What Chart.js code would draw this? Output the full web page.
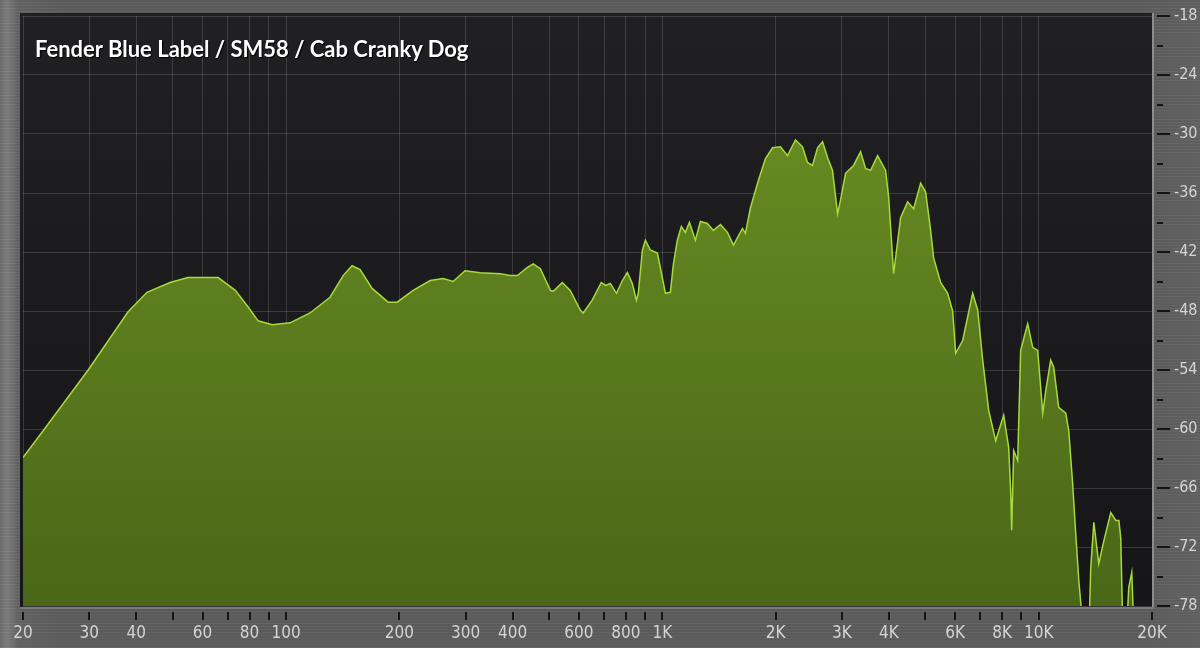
<!DOCTYPE html>
<html>
<head>
<meta charset="utf-8">
<script src="https://cdn.jsdelivr.net/npm/chart.js@4/dist/chart.umd.min.js"></script>
<style>
html,body{margin:0;padding:0;}
body{width:1200px;height:648px;overflow:hidden;background:#5d5d5d;position:relative;}
#bg{position:absolute;left:0;top:0;width:1200px;height:648px;
 background:
  repeating-linear-gradient(0deg, rgba(255,255,255,0.035) 0px, rgba(255,255,255,0.035) 1px, rgba(0,0,0,0.035) 1px, rgba(0,0,0,0.035) 3px),
  linear-gradient(90deg,#6c6c6c 0px,#7e7e7e 7px,#646464 18px,#5d5d5d 60px,#5d5d5d 1140px,#626262 1200px);}
#c{position:absolute;left:0;top:0;}
#title{position:absolute;left:35px;top:38px;font-family:Lato,'Open Sans',sans-serif;font-weight:700;font-size:22px;line-height:22px;color:#ffffff;text-shadow:1px 1px 1px #000;white-space:nowrap;}
</style>
</head>
<body>
<div id="bg"></div>
<canvas id="c" width="1200" height="648"></canvas>
<div id="title">Fender Blue Label / SM58 / Cab Cranky Dog</div>
<script>
// Frequencies (Hz)
const freqs = [
  20, 22.6, 29.8, 38.0, 42.7, 49.2, 54.9, 66.0, 73.3, 79.3,
  84.3, 91.9, 102.5, 115.8, 130.9, 141.8, 149.8, 157.3, 169.3, 186.7,
  197.3, 217.7, 241.5, 261.6, 278, 299, 328, 371, 394, 412,
  437, 454, 474, 504, 513, 542, 569, 605, 616, 651,
  688, 706, 727, 755, 783, 807, 832, 853, 863, 885,
  901, 929, 970, 1019, 1050, 1070, 1096, 1123, 1151, 1180,
  1224, 1262, 1317, 1366, 1427, 1489, 1545, 1632, 1662, 1714,
  1800, 1879, 1962, 2060, 2150, 2258, 2357, 2430, 2506, 2584,
  2664, 2747, 2832, 2921, 2975, 3067, 3221, 3363, 3467, 3575,
  3732, 3919, 3992, 4116, 4296, 4484, 4652, 4856, 5006, 5162,
  5257, 5488, 5728, 5906, 6016, 6280, 6676, 6884, 7098, 7363,
  7686, 7828, 8071, 8322, 8424, 8476, 8580, 8793, 8955, 9347,
  9638, 9938, 10250, 10440, 10760, 10960, 11300, 11800, 12020, 12310,
  12540, 12780, 13090, 13300, 13580, 13660, 13750, 14010, 14440, 14890,
  15540, 16030, 16330, 16520, 16720, 16900, 17150, 17250, 17350, 17670,
  17890, 18100, 20000
];
// Level (dB) at each frequency
const levels = [
  -62.9, -60.2, -54.0, -48.1, -46.1, -45.1, -44.6, -44.6, -45.9, -47.6,
  -49.0, -49.4, -49.2, -48.2, -46.6, -44.4, -43.4, -43.8, -45.7, -47.1,
  -47.1, -45.9, -44.9, -44.7, -45.0, -43.9, -44.1, -44.2, -44.4, -44.4,
  -43.6, -43.2, -43.7, -45.9, -46.0, -45.1, -45.9, -47.9, -48.2, -46.9,
  -45.1, -45.4, -45.2, -46.2, -44.9, -44.1, -45.2, -46.9, -46.2, -41.8,
  -40.8, -41.8, -42.1, -46.2, -46.1, -43.2, -40.8, -39.4, -40.0, -39.0,
  -40.8, -38.9, -39.1, -39.8, -39.2, -40.0, -41.3, -39.6, -40.1, -37.5,
  -34.7, -32.5, -31.4, -31.3, -32.2, -30.6, -31.3, -32.9, -33.2, -31.4,
  -30.8, -32.4, -33.7, -38.1, -36.7, -34.0, -33.2, -31.8, -33.5, -33.7,
  -32.2, -33.7, -36.4, -44.2, -38.5, -36.9, -37.6, -35.0, -35.9, -39.8,
  -42.6, -45.1, -46.2, -48.0, -52.3, -51.0, -46.2, -47.9, -53.0, -58.1,
  -61.2, -60.2, -58.6, -61.9, -66.3, -70.3, -62.2, -63.2, -52.0, -49.3,
  -51.7, -52.0, -58.4, -56.1, -53.0, -53.7, -57.8, -58.4, -60.2, -65.6,
  -70.6, -75.4, -80, -90, -90, -78, -74.1, -69.5, -73.7, -71.4,
  -68.5, -69.3, -69.3, -71.1, -80, -90, -90, -78, -76.1, -74.6,
  -80, -90, -90
];
// X axis ticks and labels
const xTickValues = [20,30,40,50,60,70,80,90,100,200,300,400,500,600,700,800,900,1000,2000,3000,4000,5000,6000,7000,8000,9000,10000,20000];
const xTickLabels = ['20','30','40','','60','','80','','100','200','300','400','','600','','800','','1K','2K','3K','4K','','6K','','8K','','10K','20K'];
// Y axis ticks and labels
const yTickValues = [-78,-75,-72,-69,-66,-63,-60,-57,-54,-51,-48,-45,-42,-39,-36,-33,-30,-27,-24,-21,-18];
const yTickLabels = ['-78','','-72','','-66','','-60','','-54','','-48','','-42','','-36','','-30','','-24','','-18'];
const yMajorLabels = new Set(yTickLabels.filter(s => s !== ''));

const fontFamily = "'Liberation Sans Narrow','DejaVu Sans Condensed','Roboto',sans-serif";

const panel = {
  id:'panel',
  beforeDraw(chart){
    const {ctx, chartArea:a} = chart;
    ctx.save();
    const g = ctx.createLinearGradient(0, a.top, 0, a.bottom);
    g.addColorStop(0, '#202022');
    g.addColorStop(1, '#161618');
    ctx.fillStyle = g;
    ctx.fillRect(a.left - 3, a.top - 3, a.right - a.left + 3, a.bottom - a.top + 5);
    ctx.restore();
  },
  afterDraw(chart){
    const {ctx, chartArea:a, scales} = chart;
    ctx.save();
    // frame edges
    ctx.strokeStyle = '#8c8c8c';
    ctx.lineWidth = 2;
    ctx.beginPath();
    ctx.moveTo(a.right + 1, a.top - 3);
    ctx.lineTo(a.right + 1, a.bottom + 3);
    ctx.stroke();
    ctx.strokeStyle = '#7a7a7a';
    ctx.beginPath();
    ctx.moveTo(a.left - 3, a.bottom + 2);
    ctx.lineTo(a.right + 2, a.bottom + 2);
    ctx.stroke();
    // tick marks
    ctx.strokeStyle = '#141414';
    ctx.lineWidth = 2;
    xTickValues.forEach(v => {
      const px = Math.round(scales.x.getPixelForValue(v));
      ctx.beginPath();
      ctx.moveTo(px, a.bottom + 6);
      ctx.lineTo(px, a.bottom + 14);
      ctx.stroke();
    });
    yTickValues.forEach((v, i) => {
      const py = Math.round(scales.y.getPixelForValue(v));
      const len = yTickLabels[i] !== '' ? 13 : 6;
      ctx.beginPath();
      ctx.moveTo(a.right + 5, py);
      ctx.lineTo(a.right + 5 + len, py);
      ctx.stroke();
    });
    ctx.restore();
  }
};

new Chart(document.getElementById('c'), {
  type:'line',
  data:{
    datasets:[{
      data: freqs.map((f, i) => ({x:f, y:levels[i]})),
      borderColor:'#a6da3c',
      borderWidth:1.5,
      pointRadius:0,
      tension:0,
      fill:'start',
      backgroundColor:(ctx) => {
        const a = ctx.chart.chartArea;
        if (!a) return '#5a7a1e';
        const g = ctx.chart.ctx.createLinearGradient(0, a.top, 0, a.bottom);
        g.addColorStop(0, '#6e9324');
        g.addColorStop(1, '#4a6618');
        return g;
      }
    }]
  },
  options:{
    responsive:false,
    animation:false,
    events:[],
    layout:{padding:{left:23, top:16, right:0, bottom:0}},
    plugins:{legend:{display:false}, tooltip:{enabled:false}, title:{display:false}},
    scales:{
      x:{
        type:'logarithmic', position:'bottom', min:20, max:20000, z:1,
        afterBuildTicks(s){ s.ticks = xTickValues.map(v => ({value:v})); },
        afterFit(s){ s.height = 42; },
        ticks:{autoSkip:false, maxRotation:0, minRotation:0, padding:2, color:'#d4d4d4', font:{family:fontFamily, size:17},
               callback:(v, i) => xTickLabels[i]},
        grid:{color:'rgba(255,255,255,0.14)', lineWidth:1, drawTicks:true, tickLength:15, tickColor:'rgba(0,0,0,0)'},
        border:{display:false}
      },
      y:{
        type:'linear', position:'right', min:-78, max:-18, z:1,
        afterBuildTicks(s){ s.ticks = yTickValues.map(v => ({value:v})); },
        afterFit(s){ s.width = 48; },
        ticks:{autoSkip:false, padding:2, color:'#d4d4d4', font:{family:fontFamily, size:16},
               callback:(v, i) => yTickLabels[i]},
        grid:{color:(c) => (c.tick && yMajorLabels.has(String(c.tick.value))) ? 'rgba(255,255,255,0.14)' : 'rgba(0,0,0,0)', lineWidth:1, drawTicks:true, tickLength:20, tickColor:'rgba(0,0,0,0)'},
        border:{display:false}
      }
    }
  },
  plugins:[panel]
});
</script>
</body>
</html>
